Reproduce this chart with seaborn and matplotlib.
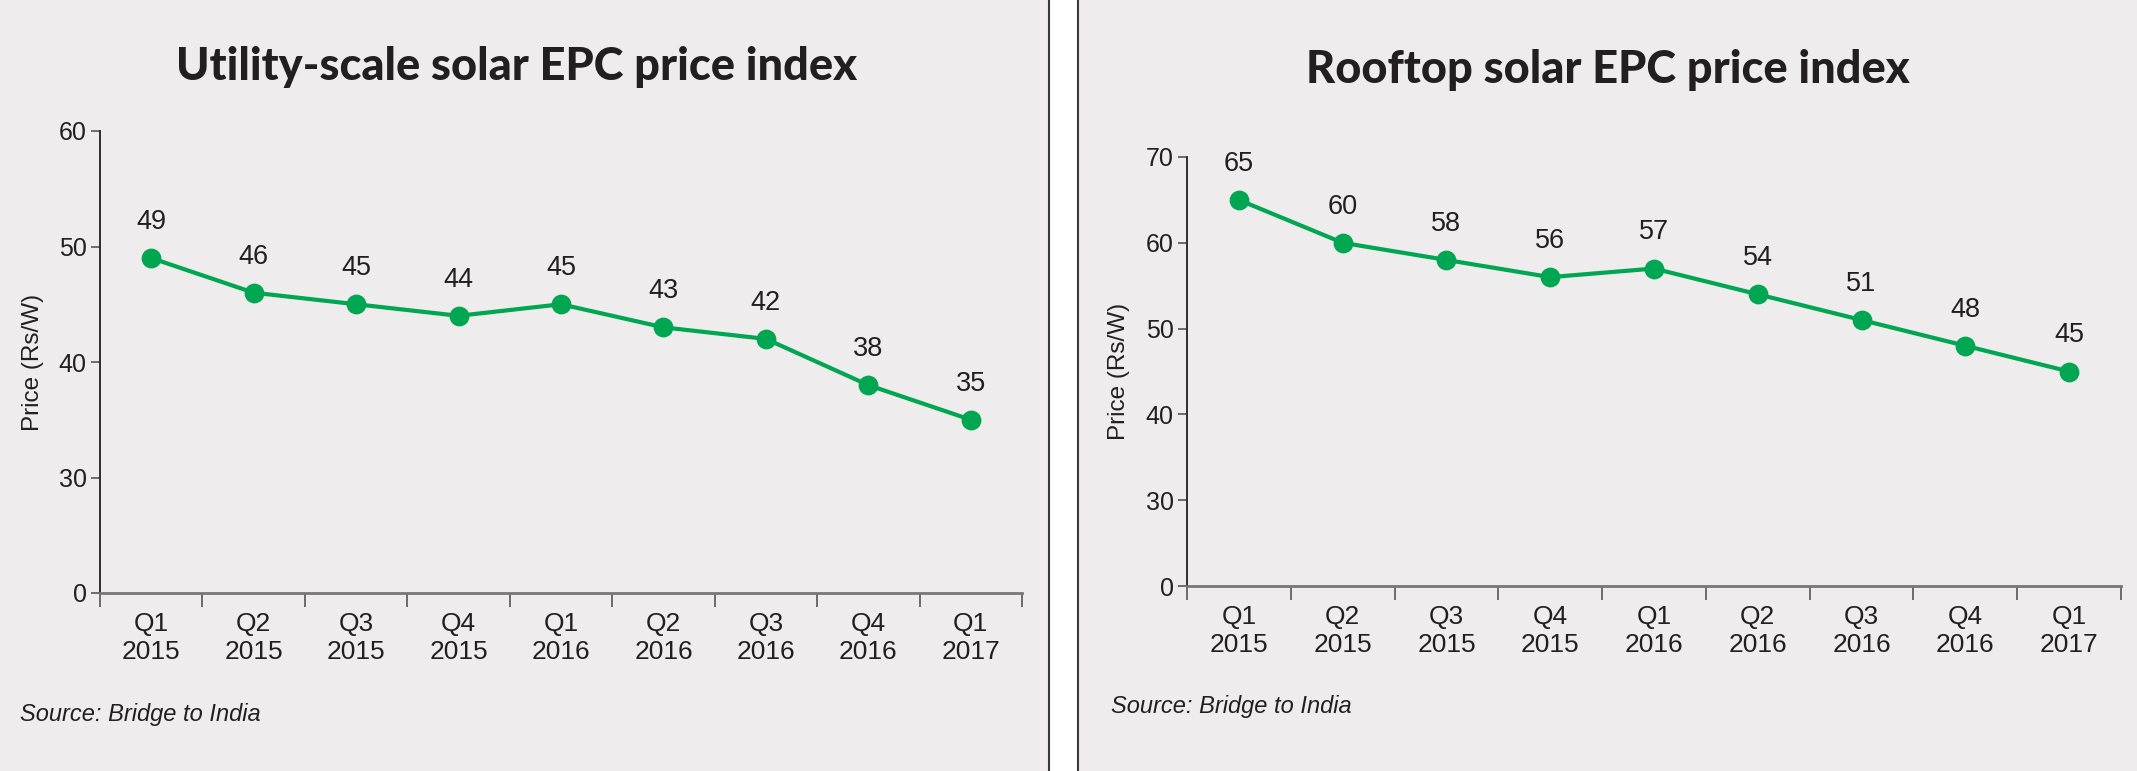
import numpy as np
import pandas as pd
import matplotlib
matplotlib.use("Agg")
import matplotlib.pyplot as plt
from matplotlib.patches import Rectangle
from matplotlib.lines import Line2D
import seaborn as sns

# data
quarters = ["Q1\n2015", "Q2\n2015", "Q3\n2015", "Q4\n2015", "Q1\n2016",
            "Q2\n2016", "Q3\n2016", "Q4\n2016", "Q1\n2017"]
utility_price = [49, 46, 45, 44, 45, 43, 42, 38, 35]
rooftop_price = [65, 60, 58, 56, 57, 54, 51, 48, 45]
utility_yticks = [20, 30, 40, 50, 60]
rooftop_yticks = [20, 30, 40, 50, 60, 70]

GREEN = "#00A651"
BG = "#EEECED"
INK = "#231F20"
NARROW = ["Liberation Sans Narrow", "Liberation Sans", "DejaVu Sans"]

sns.set_theme(style="white")
plt.rcParams["font.family"] = NARROW

W, H = 2137, 771
fig = plt.figure(figsize=(W / 100, H / 100), dpi=100)
fig.patch.set_facecolor("white")

# panel backgrounds and divider lines
fig.add_artist(Rectangle((0, 0), 1049 / W, 1, transform=fig.transFigure,
                         facecolor=BG, edgecolor="none", zorder=-10))
fig.add_artist(Rectangle((1078 / W, 0), 1 - 1078 / W, 1, transform=fig.transFigure,
                         facecolor=BG, edgecolor="none", zorder=-10))
for xp in (1049, 1078):
    fig.add_artist(Line2D([xp / W, xp / W], [0, 1], transform=fig.transFigure,
                          color="#3a3a3a", lw=1.5))


def draw_panel(rect, values, yticks, title, title_x, title_y, src_x, src_y):
    ax = fig.add_axes(rect)
    ax.set_facecolor("none")
    df = pd.DataFrame({"quarter": quarters, "price": values})
    sns.pointplot(data=df, x="quarter", y="price", ax=ax, color=GREEN,
                  errorbar=None, markersize=12, linewidth=3)
    for i, v in enumerate(values):
        ax.annotate(str(v), (i, v), xytext=(0, 26), textcoords="offset points",
                    ha="center", va="center", fontsize=19.5, color=INK)

    ax.set_xlim(-0.5, len(quarters) - 0.5)
    ax.set_ylim(yticks[0], yticks[-1])
    ax.set_yticks(yticks)
    ax.set_yticklabels(["0"] + [str(t) for t in yticks[1:]])
    ax.set_xticks(np.arange(len(quarters)))
    ax.set_xticklabels(quarters, linespacing=1.2)
    ax.set_xticks(np.arange(len(quarters) + 1) - 0.5, minor=True)

    ax.tick_params(axis="x", which="major", length=0, pad=14, labelsize=19,
                   labelcolor=INK)
    ax.tick_params(axis="x", which="minor", length=10, width=1.2,
                   color="#555555", bottom=True, direction="out")
    ax.tick_params(axis="y", length=6.5, width=1.2, color="#555555", pad=3,
                   labelsize=18, labelcolor=INK, left=True, direction="out")

    for s in ("top", "right"):
        ax.spines[s].set_visible(False)
    ax.spines["left"].set_color(INK)
    ax.spines["left"].set_linewidth(1.3)
    ax.spines["bottom"].set_color("#777777")
    ax.spines["bottom"].set_linewidth(2)

    ax.set_xlabel("")
    ax.set_ylabel("Price (Rs/W)", fontsize=17.5, color=INK)
    ax.yaxis.set_label_coords(-0.061, 0.5)

    fig.text(title_x / W, 1 - title_y / H, title, ha="center", va="center",
             fontsize=32.5, fontweight="black", family=["Lato", "DejaVu Sans"],
             color=INK)
    fig.text(src_x / W, 1 - src_y / H, "Source: Bridge to India", ha="left",
             va="center", fontsize=17, style="italic", color=INK)
    return ax


draw_panel([100 / W, 178 / H, 922 / W, 462 / H], utility_price, utility_yticks,
           "Utility-scale solar EPC price index", 517, 67, 20, 714)
draw_panel([1187 / W, 185 / H, 934 / W, 429 / H], rooftop_price, rooftop_yticks,
           "Rooftop solar EPC price index", 1608, 70, 1111, 707)

fig.savefig("out.png", dpi=100, facecolor=fig.get_facecolor())
